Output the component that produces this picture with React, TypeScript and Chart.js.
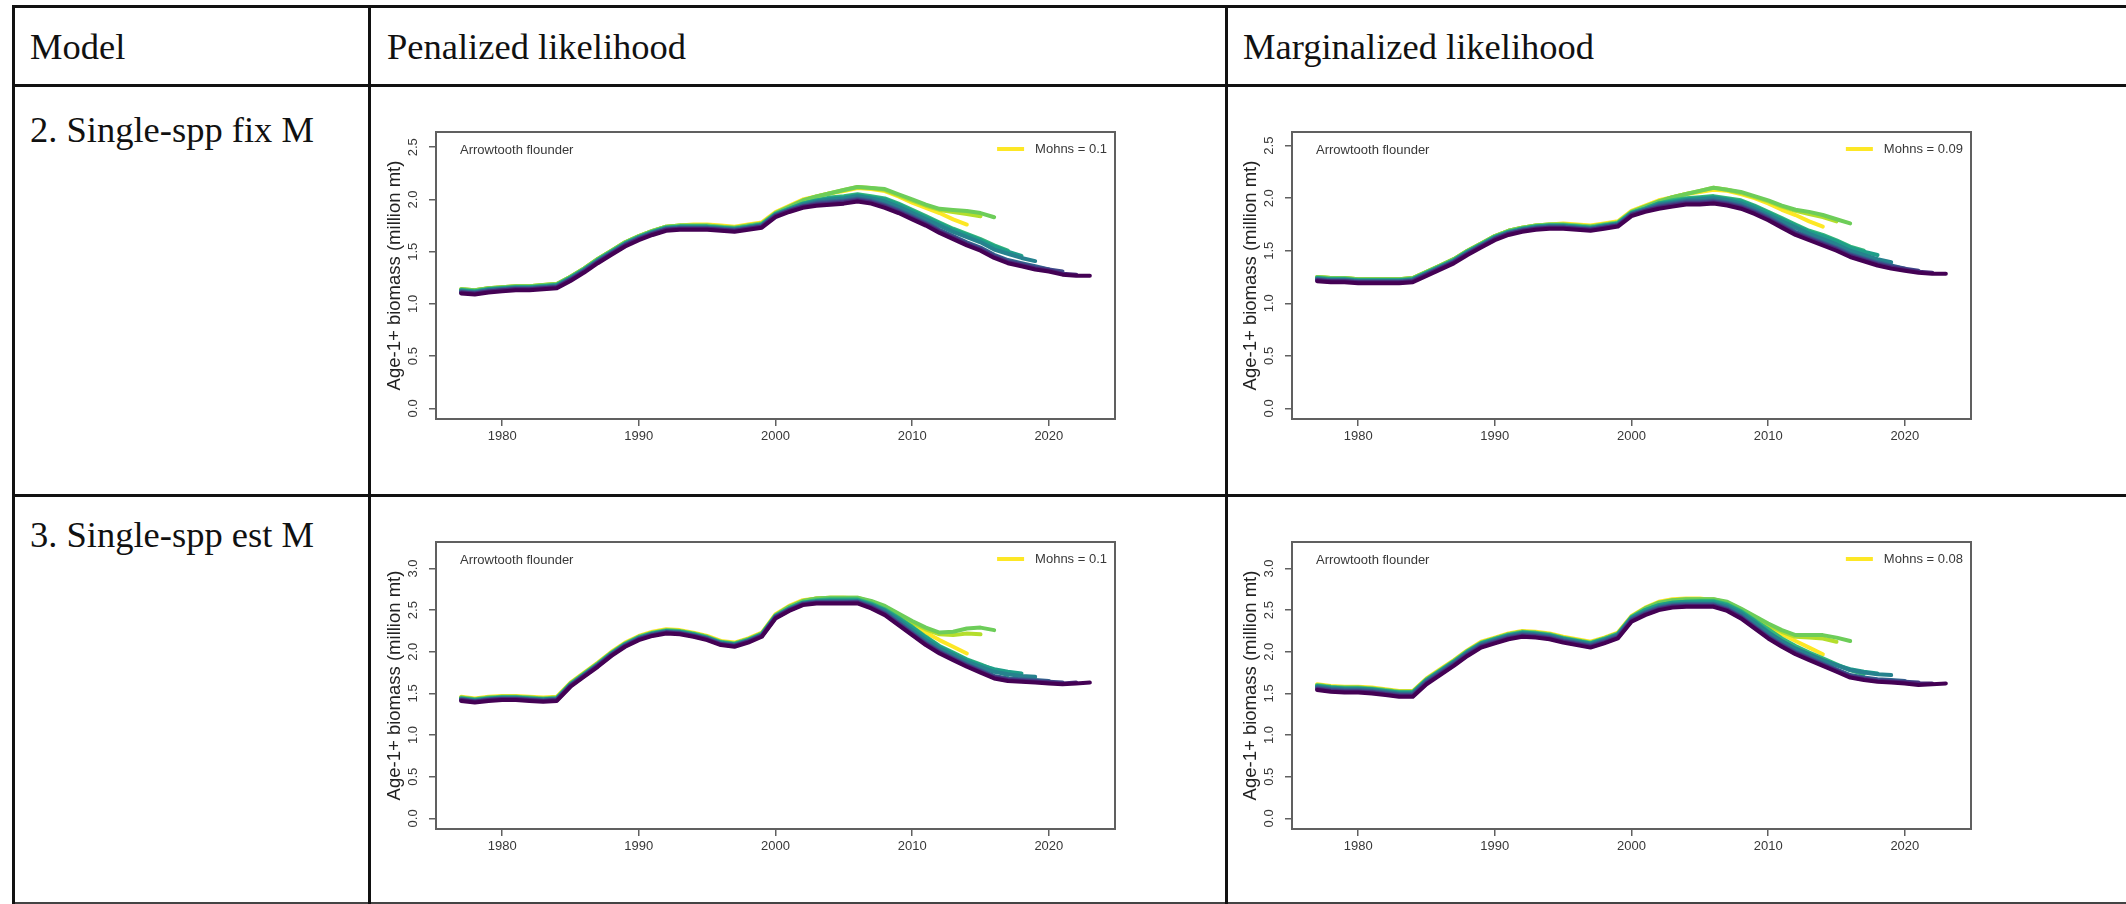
import React, { useEffect, useRef } from "react";
import { Chart, registerables } from "chart.js";

Chart.register(...registerables);
Chart.defaults.font.family = "'Liberation Sans', Arial, Helvetica, sans-serif";

// ---- data -------------------------------------------------------------
const years = [
  1977, 1978, 1979, 1980, 1981, 1982, 1983, 1984, 1985, 1986,
  1987, 1988, 1989, 1990, 1991, 1992, 1993, 1994, 1995, 1996,
  1997, 1998, 1999, 2000, 2001, 2002, 2003, 2004, 2005, 2006,
  2007, 2008, 2009, 2010, 2011, 2012, 2013, 2014, 2015, 2016,
  2017, 2018, 2019, 2020, 2021, 2022, 2023,
];

// terminal year of each retrospective peel (peel 0 = full assessment)
const peelEndYears = [2023, 2022, 2021, 2020, 2019, 2018, 2017, 2016, 2015, 2014];
// viridis(10)
const peelColors = [
  "#440154", "#482878", "#3E4A89", "#31688E", "#26828E",
  "#1F9E89", "#35B779", "#6DCD59", "#B4DE2C", "#FDE725",
];

const xTicks = [1980, 1990, 2000, 2010, 2020];
const yTicksFixM = [0, 0.5, 1.0, 1.5, 2.0, 2.5];
const yTicksEstM = [0, 0.5, 1.0, 1.5, 2.0, 2.5, 3.0];

const columnHeaders = ["Model", "Penalized likelihood", "Marginalized likelihood"];
const modelNames = ["2. Single-spp fix M", "3. Single-spp est M"];
const stockName = "Arrowtooth flounder";
const yAxisTitle = "Age-1+ biomass (million mt)";

const mohnsPenalizedFixM = 0.1;
const mohnsMarginalFixM = 0.09;
const mohnsPenalizedEstM = 0.1;
const mohnsMarginalEstM = 0.08;

// Age-1+ biomass (million t), one row per peel, starting 1977
const penalizedFixM: number[][] = [
  [1.10, 1.09, 1.11, 1.12, 1.13, 1.13, 1.14, 1.15, 1.22, 1.30, 1.39, 1.47, 1.55, 1.61, 1.66, 1.70, 1.71, 1.71, 1.71, 1.70, 1.69, 1.71, 1.73, 1.83, 1.88, 1.92, 1.94, 1.95, 1.96, 1.98, 1.96, 1.92, 1.87, 1.81, 1.75, 1.68, 1.62, 1.56, 1.51, 1.44, 1.39, 1.36, 1.33, 1.31, 1.28, 1.27, 1.27],
  [1.11, 1.10, 1.12, 1.13, 1.14, 1.14, 1.15, 1.16, 1.23, 1.31, 1.40, 1.48, 1.56, 1.62, 1.67, 1.71, 1.72, 1.72, 1.72, 1.71, 1.70, 1.72, 1.74, 1.84, 1.89, 1.93, 1.95, 1.96, 1.97, 1.99, 1.97, 1.93, 1.88, 1.82, 1.76, 1.69, 1.63, 1.57, 1.52, 1.45, 1.40, 1.37, 1.34, 1.32, 1.29, 1.28],
  [1.11, 1.10, 1.12, 1.13, 1.14, 1.14, 1.15, 1.16, 1.23, 1.31, 1.40, 1.48, 1.56, 1.62, 1.67, 1.71, 1.72, 1.72, 1.72, 1.71, 1.70, 1.72, 1.74, 1.84, 1.89, 1.93, 1.96, 1.97, 1.98, 2.00, 1.98, 1.94, 1.89, 1.83, 1.77, 1.70, 1.64, 1.58, 1.53, 1.46, 1.41, 1.38, 1.35, 1.33, 1.31],
  [1.12, 1.11, 1.13, 1.14, 1.15, 1.15, 1.16, 1.17, 1.24, 1.32, 1.41, 1.49, 1.57, 1.63, 1.68, 1.72, 1.73, 1.73, 1.73, 1.72, 1.71, 1.73, 1.75, 1.85, 1.90, 1.94, 1.97, 1.98, 1.99, 2.01, 1.99, 1.95, 1.90, 1.84, 1.78, 1.71, 1.65, 1.59, 1.54, 1.47, 1.42, 1.39, 1.36, 1.33],
  [1.12, 1.11, 1.13, 1.14, 1.15, 1.15, 1.16, 1.17, 1.24, 1.32, 1.41, 1.49, 1.57, 1.63, 1.68, 1.72, 1.73, 1.73, 1.73, 1.72, 1.71, 1.73, 1.75, 1.85, 1.90, 1.95, 1.98, 2.00, 2.01, 2.03, 2.01, 1.98, 1.93, 1.87, 1.81, 1.75, 1.69, 1.64, 1.59, 1.52, 1.48, 1.44, 1.41],
  [1.13, 1.12, 1.14, 1.15, 1.16, 1.16, 1.17, 1.18, 1.25, 1.33, 1.42, 1.50, 1.58, 1.64, 1.69, 1.73, 1.74, 1.74, 1.74, 1.73, 1.72, 1.74, 1.76, 1.86, 1.91, 1.96, 1.99, 2.01, 2.02, 2.04, 2.02, 2.00, 1.95, 1.89, 1.83, 1.77, 1.71, 1.66, 1.61, 1.55, 1.50, 1.46],
  [1.13, 1.12, 1.14, 1.15, 1.16, 1.16, 1.17, 1.18, 1.25, 1.33, 1.42, 1.50, 1.58, 1.64, 1.69, 1.73, 1.74, 1.74, 1.74, 1.73, 1.72, 1.74, 1.76, 1.86, 1.91, 1.96, 1.99, 2.02, 2.03, 2.05, 2.03, 2.01, 1.96, 1.90, 1.84, 1.78, 1.72, 1.67, 1.62, 1.56, 1.51],
  [1.14, 1.13, 1.15, 1.16, 1.17, 1.17, 1.18, 1.19, 1.26, 1.34, 1.43, 1.51, 1.59, 1.65, 1.70, 1.74, 1.75, 1.75, 1.75, 1.74, 1.73, 1.75, 1.77, 1.87, 1.93, 1.99, 2.03, 2.06, 2.09, 2.12, 2.11, 2.10, 2.05, 2.00, 1.95, 1.91, 1.90, 1.89, 1.87, 1.83],
  [1.14, 1.13, 1.15, 1.16, 1.17, 1.17, 1.18, 1.19, 1.26, 1.34, 1.43, 1.51, 1.59, 1.65, 1.70, 1.74, 1.75, 1.75, 1.75, 1.74, 1.73, 1.75, 1.77, 1.87, 1.93, 1.99, 2.03, 2.06, 2.09, 2.12, 2.11, 2.09, 2.04, 1.99, 1.94, 1.90, 1.88, 1.86, 1.84],
  [1.14, 1.13, 1.15, 1.16, 1.17, 1.17, 1.18, 1.19, 1.26, 1.34, 1.43, 1.51, 1.59, 1.65, 1.70, 1.74, 1.75, 1.76, 1.76, 1.75, 1.74, 1.76, 1.78, 1.88, 1.94, 2.00, 2.03, 2.06, 2.08, 2.11, 2.10, 2.08, 2.03, 1.97, 1.92, 1.87, 1.81, 1.76],
];

const marginalFixM: number[][] = [
  [1.21, 1.20, 1.20, 1.19, 1.19, 1.19, 1.19, 1.20, 1.26, 1.32, 1.38, 1.46, 1.53, 1.60, 1.65, 1.68, 1.70, 1.71, 1.71, 1.70, 1.69, 1.71, 1.73, 1.83, 1.87, 1.90, 1.92, 1.94, 1.94, 1.95, 1.93, 1.90, 1.85, 1.79, 1.72, 1.65, 1.60, 1.55, 1.50, 1.44, 1.40, 1.36, 1.33, 1.31, 1.29, 1.28, 1.28],
  [1.22, 1.21, 1.21, 1.20, 1.20, 1.20, 1.20, 1.21, 1.27, 1.33, 1.39, 1.47, 1.54, 1.61, 1.66, 1.69, 1.71, 1.72, 1.72, 1.71, 1.70, 1.72, 1.74, 1.84, 1.88, 1.91, 1.93, 1.95, 1.95, 1.96, 1.94, 1.91, 1.86, 1.80, 1.73, 1.66, 1.61, 1.56, 1.51, 1.45, 1.41, 1.37, 1.34, 1.32, 1.30, 1.29],
  [1.22, 1.21, 1.21, 1.20, 1.20, 1.20, 1.20, 1.21, 1.27, 1.33, 1.39, 1.47, 1.54, 1.61, 1.66, 1.69, 1.71, 1.72, 1.72, 1.71, 1.70, 1.72, 1.74, 1.84, 1.88, 1.92, 1.94, 1.96, 1.96, 1.97, 1.95, 1.92, 1.87, 1.81, 1.74, 1.67, 1.62, 1.57, 1.52, 1.46, 1.42, 1.38, 1.35, 1.33, 1.31],
  [1.23, 1.22, 1.22, 1.21, 1.21, 1.21, 1.21, 1.22, 1.28, 1.34, 1.40, 1.48, 1.55, 1.62, 1.67, 1.70, 1.72, 1.73, 1.73, 1.72, 1.71, 1.73, 1.75, 1.85, 1.89, 1.93, 1.95, 1.97, 1.97, 1.98, 1.96, 1.93, 1.88, 1.82, 1.75, 1.68, 1.63, 1.58, 1.53, 1.47, 1.43, 1.39, 1.36, 1.33],
  [1.23, 1.22, 1.22, 1.21, 1.21, 1.21, 1.21, 1.22, 1.28, 1.34, 1.40, 1.48, 1.55, 1.62, 1.67, 1.70, 1.72, 1.73, 1.73, 1.72, 1.71, 1.73, 1.75, 1.85, 1.89, 1.94, 1.96, 1.98, 1.99, 2.00, 1.98, 1.95, 1.90, 1.84, 1.78, 1.72, 1.66, 1.61, 1.56, 1.50, 1.46, 1.42, 1.39],
  [1.24, 1.23, 1.23, 1.22, 1.22, 1.22, 1.22, 1.23, 1.29, 1.35, 1.41, 1.49, 1.56, 1.63, 1.68, 1.71, 1.73, 1.74, 1.74, 1.73, 1.72, 1.74, 1.76, 1.86, 1.90, 1.95, 1.97, 1.99, 2.00, 2.01, 1.99, 1.97, 1.92, 1.86, 1.80, 1.74, 1.68, 1.64, 1.59, 1.53, 1.49, 1.46],
  [1.24, 1.23, 1.23, 1.22, 1.22, 1.22, 1.22, 1.23, 1.29, 1.35, 1.41, 1.49, 1.56, 1.63, 1.68, 1.71, 1.73, 1.74, 1.74, 1.73, 1.72, 1.74, 1.76, 1.86, 1.90, 1.95, 1.98, 2.00, 2.01, 2.02, 2.00, 1.98, 1.93, 1.87, 1.81, 1.75, 1.69, 1.65, 1.60, 1.54, 1.50],
  [1.25, 1.24, 1.24, 1.23, 1.23, 1.23, 1.23, 1.24, 1.30, 1.36, 1.42, 1.50, 1.57, 1.64, 1.69, 1.72, 1.74, 1.75, 1.75, 1.74, 1.73, 1.75, 1.77, 1.87, 1.92, 1.97, 2.01, 2.04, 2.07, 2.10, 2.08, 2.06, 2.02, 1.98, 1.93, 1.89, 1.87, 1.84, 1.80, 1.76],
  [1.25, 1.24, 1.24, 1.23, 1.23, 1.23, 1.23, 1.24, 1.30, 1.36, 1.42, 1.50, 1.57, 1.64, 1.69, 1.72, 1.74, 1.75, 1.75, 1.74, 1.73, 1.75, 1.77, 1.87, 1.92, 1.97, 2.01, 2.04, 2.07, 2.10, 2.08, 2.05, 2.01, 1.97, 1.92, 1.88, 1.85, 1.82, 1.78],
  [1.25, 1.24, 1.24, 1.23, 1.23, 1.23, 1.23, 1.24, 1.30, 1.36, 1.42, 1.50, 1.57, 1.64, 1.69, 1.72, 1.74, 1.75, 1.76, 1.75, 1.74, 1.76, 1.78, 1.88, 1.93, 1.98, 2.01, 2.04, 2.06, 2.08, 2.07, 2.04, 2.00, 1.95, 1.89, 1.84, 1.78, 1.73],
];

const penalizedEstM: number[][] = [
  [1.41, 1.39, 1.41, 1.42, 1.42, 1.41, 1.40, 1.41, 1.58, 1.70, 1.82, 1.95, 2.06, 2.14, 2.19, 2.22, 2.21, 2.18, 2.14, 2.08, 2.06, 2.11, 2.18, 2.40, 2.49, 2.56, 2.58, 2.58, 2.58, 2.58, 2.52, 2.44, 2.32, 2.20, 2.08, 1.98, 1.90, 1.82, 1.75, 1.68, 1.65, 1.64, 1.63, 1.62, 1.61, 1.62, 1.63],
  [1.42, 1.40, 1.42, 1.43, 1.43, 1.42, 1.41, 1.42, 1.59, 1.71, 1.83, 1.96, 2.07, 2.15, 2.20, 2.23, 2.22, 2.19, 2.15, 2.09, 2.07, 2.12, 2.19, 2.41, 2.50, 2.57, 2.59, 2.59, 2.59, 2.59, 2.53, 2.45, 2.33, 2.21, 2.09, 1.99, 1.91, 1.83, 1.76, 1.69, 1.66, 1.65, 1.64, 1.63, 1.62, 1.63],
  [1.42, 1.40, 1.42, 1.43, 1.43, 1.42, 1.41, 1.42, 1.59, 1.71, 1.83, 1.96, 2.07, 2.15, 2.20, 2.23, 2.22, 2.19, 2.15, 2.09, 2.07, 2.12, 2.19, 2.41, 2.50, 2.57, 2.59, 2.59, 2.59, 2.60, 2.54, 2.46, 2.34, 2.22, 2.10, 2.00, 1.92, 1.84, 1.77, 1.70, 1.67, 1.66, 1.65, 1.64, 1.63],
  [1.43, 1.41, 1.43, 1.44, 1.44, 1.43, 1.42, 1.43, 1.60, 1.72, 1.84, 1.97, 2.08, 2.16, 2.21, 2.24, 2.23, 2.20, 2.16, 2.10, 2.08, 2.13, 2.20, 2.42, 2.51, 2.58, 2.60, 2.60, 2.60, 2.60, 2.55, 2.47, 2.35, 2.23, 2.11, 2.01, 1.93, 1.85, 1.78, 1.71, 1.68, 1.67, 1.66, 1.65],
  [1.43, 1.41, 1.43, 1.44, 1.44, 1.43, 1.42, 1.43, 1.60, 1.72, 1.84, 1.97, 2.08, 2.16, 2.21, 2.24, 2.23, 2.20, 2.16, 2.10, 2.08, 2.13, 2.20, 2.42, 2.51, 2.58, 2.60, 2.61, 2.61, 2.61, 2.56, 2.49, 2.38, 2.26, 2.14, 2.04, 1.96, 1.88, 1.82, 1.76, 1.73, 1.71, 1.70],
  [1.44, 1.42, 1.44, 1.45, 1.45, 1.44, 1.43, 1.44, 1.61, 1.73, 1.85, 1.98, 2.09, 2.17, 2.22, 2.25, 2.24, 2.21, 2.17, 2.11, 2.09, 2.14, 2.21, 2.43, 2.52, 2.59, 2.61, 2.62, 2.62, 2.62, 2.57, 2.50, 2.40, 2.29, 2.17, 2.06, 1.98, 1.90, 1.84, 1.79, 1.76, 1.74],
  [1.44, 1.42, 1.44, 1.45, 1.45, 1.44, 1.43, 1.44, 1.61, 1.73, 1.85, 1.98, 2.09, 2.17, 2.22, 2.25, 2.24, 2.21, 2.17, 2.11, 2.09, 2.14, 2.21, 2.43, 2.52, 2.59, 2.62, 2.63, 2.63, 2.63, 2.58, 2.51, 2.41, 2.30, 2.18, 2.07, 1.99, 1.91, 1.85, 1.78, 1.72],
  [1.45, 1.43, 1.45, 1.46, 1.46, 1.45, 1.44, 1.45, 1.62, 1.74, 1.86, 1.99, 2.10, 2.18, 2.23, 2.26, 2.25, 2.22, 2.18, 2.12, 2.10, 2.15, 2.22, 2.44, 2.54, 2.61, 2.64, 2.65, 2.65, 2.65, 2.61, 2.55, 2.46, 2.37, 2.29, 2.23, 2.24, 2.28, 2.29, 2.26],
  [1.45, 1.43, 1.45, 1.46, 1.46, 1.45, 1.44, 1.45, 1.62, 1.74, 1.86, 1.99, 2.10, 2.18, 2.23, 2.26, 2.25, 2.22, 2.18, 2.12, 2.10, 2.15, 2.22, 2.44, 2.54, 2.61, 2.64, 2.65, 2.65, 2.65, 2.60, 2.54, 2.45, 2.35, 2.27, 2.21, 2.20, 2.22, 2.21],
  [1.46, 1.44, 1.46, 1.47, 1.47, 1.46, 1.45, 1.46, 1.63, 1.75, 1.87, 2.00, 2.11, 2.19, 2.24, 2.27, 2.26, 2.23, 2.19, 2.13, 2.11, 2.16, 2.23, 2.45, 2.55, 2.62, 2.64, 2.65, 2.65, 2.64, 2.59, 2.52, 2.43, 2.33, 2.23, 2.14, 2.06, 1.98],
];

const marginalEstM: number[][] = [
  [1.54, 1.52, 1.51, 1.51, 1.50, 1.48, 1.46, 1.46, 1.61, 1.72, 1.83, 1.95, 2.05, 2.10, 2.15, 2.18, 2.17, 2.15, 2.11, 2.08, 2.05, 2.10, 2.16, 2.36, 2.44, 2.50, 2.53, 2.54, 2.54, 2.54, 2.49, 2.40, 2.28, 2.16, 2.06, 1.97, 1.90, 1.83, 1.76, 1.69, 1.66, 1.64, 1.63, 1.62, 1.60, 1.61, 1.62],
  [1.55, 1.53, 1.52, 1.52, 1.51, 1.49, 1.47, 1.47, 1.62, 1.73, 1.84, 1.96, 2.06, 2.11, 2.16, 2.19, 2.18, 2.16, 2.12, 2.09, 2.06, 2.11, 2.17, 2.37, 2.45, 2.51, 2.54, 2.55, 2.55, 2.55, 2.50, 2.41, 2.29, 2.17, 2.07, 1.98, 1.91, 1.84, 1.77, 1.70, 1.67, 1.65, 1.64, 1.63, 1.62, 1.62],
  [1.56, 1.54, 1.53, 1.53, 1.52, 1.50, 1.48, 1.48, 1.63, 1.74, 1.85, 1.97, 2.07, 2.12, 2.17, 2.20, 2.19, 2.17, 2.13, 2.10, 2.07, 2.12, 2.18, 2.38, 2.46, 2.52, 2.55, 2.56, 2.56, 2.56, 2.51, 2.42, 2.30, 2.18, 2.08, 1.99, 1.92, 1.85, 1.78, 1.71, 1.68, 1.66, 1.65, 1.64, 1.63],
  [1.57, 1.55, 1.54, 1.54, 1.53, 1.51, 1.49, 1.49, 1.64, 1.75, 1.86, 1.98, 2.08, 2.13, 2.18, 2.21, 2.20, 2.18, 2.14, 2.11, 2.08, 2.13, 2.19, 2.39, 2.47, 2.53, 2.56, 2.57, 2.57, 2.57, 2.52, 2.43, 2.31, 2.19, 2.09, 2.00, 1.93, 1.86, 1.79, 1.72, 1.69, 1.67, 1.66, 1.65],
  [1.58, 1.56, 1.55, 1.55, 1.54, 1.52, 1.50, 1.50, 1.65, 1.76, 1.87, 1.99, 2.09, 2.14, 2.19, 2.22, 2.21, 2.19, 2.15, 2.12, 2.09, 2.14, 2.20, 2.40, 2.48, 2.54, 2.57, 2.58, 2.58, 2.58, 2.54, 2.46, 2.35, 2.23, 2.13, 2.04, 1.97, 1.90, 1.84, 1.78, 1.75, 1.73, 1.72],
  [1.59, 1.57, 1.56, 1.56, 1.55, 1.53, 1.51, 1.51, 1.66, 1.77, 1.88, 2.00, 2.10, 2.15, 2.20, 2.23, 2.22, 2.20, 2.16, 2.13, 2.10, 2.15, 2.21, 2.41, 2.50, 2.56, 2.59, 2.60, 2.60, 2.60, 2.56, 2.48, 2.37, 2.24, 2.12, 2.03, 1.95, 1.89, 1.84, 1.79, 1.76, 1.74],
  [1.59, 1.57, 1.56, 1.56, 1.55, 1.53, 1.51, 1.51, 1.66, 1.77, 1.88, 2.00, 2.10, 2.15, 2.20, 2.23, 2.22, 2.20, 2.16, 2.13, 2.10, 2.15, 2.21, 2.41, 2.50, 2.56, 2.59, 2.60, 2.61, 2.61, 2.57, 2.49, 2.38, 2.27, 2.16, 2.07, 1.99, 1.92, 1.85, 1.78, 1.73],
  [1.60, 1.58, 1.57, 1.57, 1.56, 1.54, 1.52, 1.52, 1.67, 1.78, 1.89, 2.01, 2.11, 2.16, 2.21, 2.24, 2.23, 2.21, 2.17, 2.14, 2.11, 2.16, 2.22, 2.42, 2.52, 2.59, 2.62, 2.63, 2.63, 2.63, 2.60, 2.52, 2.43, 2.34, 2.26, 2.20, 2.20, 2.20, 2.17, 2.13],
  [1.60, 1.58, 1.57, 1.57, 1.56, 1.54, 1.52, 1.52, 1.67, 1.78, 1.89, 2.01, 2.11, 2.16, 2.21, 2.24, 2.23, 2.21, 2.17, 2.14, 2.11, 2.16, 2.22, 2.42, 2.52, 2.59, 2.62, 2.63, 2.63, 2.63, 2.59, 2.51, 2.42, 2.32, 2.24, 2.18, 2.17, 2.16, 2.12],
  [1.61, 1.59, 1.58, 1.58, 1.57, 1.55, 1.53, 1.53, 1.68, 1.79, 1.90, 2.02, 2.12, 2.17, 2.22, 2.25, 2.24, 2.22, 2.18, 2.15, 2.12, 2.17, 2.23, 2.43, 2.53, 2.60, 2.63, 2.64, 2.64, 2.62, 2.58, 2.49, 2.40, 2.30, 2.21, 2.13, 2.05, 1.97],
];

// ---- layout (page pixels) --------------------------------------------
const PAGE_W = 2126;
const PAGE_H = 904;
const CANVAS_W = 840;
const CANVAS_H = 380;

const panels = [
  { peels: penalizedFixM, mohns: mohnsPenalizedFixM, yTicks: yTicksFixM, yMin: -0.102, yMax: 2.646, left: 372, top: 100 },
  { peels: marginalFixM, mohns: mohnsMarginalFixM, yTicks: yTicksFixM, yMin: -0.101, yMax: 2.63, left: 1228, top: 100 },
  { peels: penalizedEstM, mohns: mohnsPenalizedEstM, yTicks: yTicksEstM, yMin: -0.128, yMax: 3.318, left: 372, top: 510 },
  { peels: marginalEstM, mohns: mohnsMarginalEstM, yTicks: yTicksEstM, yMin: -0.128, yMax: 3.318, left: 1228, top: 510 },
];

const AXIS_GRAY = "#606060";
const TEXT_GRAY = "#383838";

type PanelProps = (typeof panels)[number];

function RetroPanel({ peels, mohns, yTicks, yMin, yMax, left, top }: PanelProps) {
  const ref = useRef<HTMLCanvasElement | null>(null);

  useEffect(() => {
    if (!ref.current) return;

    // box around the plot region, stock label and the Mohn's rho key
    const decorations = {
      id: "plotDecorations",
      afterDraw(chart: any) {
        const { ctx, chartArea: a } = chart;
        ctx.save();
        ctx.strokeStyle = AXIS_GRAY;
        ctx.lineWidth = 2;
        ctx.strokeRect(a.left, a.top, a.right - a.left, a.bottom - a.top);

        ctx.font = "13px 'Liberation Sans', Arial, sans-serif";
        ctx.fillStyle = TEXT_GRAY;
        ctx.textBaseline = "middle";
        ctx.textAlign = "left";
        ctx.fillText(stockName, a.left + 24, a.top + 18);

        const key = `Mohns = ${mohns}`;
        const textRight = a.right - 8;
        const textW = ctx.measureText(key).width;
        const textLeft = textRight - textW;
        const keyY = a.top + 17;
        ctx.fillText(key, textLeft, keyY);
        const lastPeel = chart.data.datasets[chart.data.datasets.length - 1];
        ctx.strokeStyle = lastPeel.borderColor;
        ctx.lineWidth = 4;
        ctx.beginPath();
        ctx.moveTo(textLeft - 38, keyY);
        ctx.lineTo(textLeft - 11, keyY);
        ctx.stroke();
        ctx.restore();
      },
    };

    const tickGrid = {
      display: true,
      drawOnChartArea: false,
      drawTicks: true,
      tickLength: 7,
      color: AXIS_GRAY,
      lineWidth: 1.5,
    };

    const chart = new Chart(ref.current, {
      type: "line",
      data: {
        labels: years,
        datasets: peels.map((vals, i) => ({
          label: String(peelEndYears[i]),
          data: vals,
          borderColor: peelColors[i],
          backgroundColor: peelColors[i],
          borderWidth: 4,
          pointRadius: 0,
          fill: false,
          tension: 0,
          borderCapStyle: "round" as const,
          borderJoinStyle: "round" as const,
        })),
      },
      options: {
        responsive: false,
        animation: false,
        devicePixelRatio: 1,
        layout: { padding: { left: 0, top: 32, right: 97, bottom: 21 } },
        scales: {
          x: {
            type: "linear",
            min: 1975.16,
            max: 2024.84,
            afterBuildTicks: (s: any) => {
              s.ticks = xTicks.map((v) => ({ value: v }));
            },
            afterFit: (s: any) => {
              s.height = 40;
            },
            grid: tickGrid,
            border: { display: false },
            ticks: {
              autoSkip: false,
              minRotation: 0,
              maxRotation: 0,
              padding: 3,
              color: TEXT_GRAY,
              font: { size: 13 },
              callback: (v: any) => String(v),
            },
          },
          y: {
            type: "linear",
            min: yMin,
            max: yMax,
            afterBuildTicks: (s: any) => {
              s.ticks = yTicks.map((v) => ({ value: v }));
            },
            afterFit: (s: any) => {
              s.width = 64;
            },
            grid: tickGrid,
            border: { display: false },
            ticks: {
              autoSkip: false,
              minRotation: 90,
              maxRotation: 90,
              crossAlign: "center",
              padding: 7,
              color: TEXT_GRAY,
              font: { size: 13 },
              callback: (v: any) => Number(v).toFixed(1),
            },
            title: {
              display: true,
              text: yAxisTitle,
              color: "#222222",
              font: { size: 18.5 },
              padding: { top: 12, bottom: 0 },
            },
          },
        },
        plugins: {
          legend: { display: false },
          tooltip: { enabled: false },
        },
      },
      plugins: [decorations],
    } as any);

    return () => chart.destroy();
  }, [peels, mohns, yTicks, yMin, yMax]);

  return (
    <canvas
      ref={ref}
      width={CANVAS_W}
      height={CANVAS_H}
      style={{ position: "absolute", left, top, width: CANVAS_W, height: CANVAS_H }}
    />
  );
}

const serif = "'Liberation Serif', 'Times New Roman', Times, serif";

function Cell({ text, left, baseline }: { text: string; left: number; baseline: number }) {
  // line-height equals the font size, so the baseline sits ~30.6px below the box top
  return (
    <div
      style={{
        position: "absolute",
        left,
        top: baseline - 30.6,
        fontFamily: serif,
        fontSize: 36.5,
        lineHeight: "36.5px",
        color: "#111",
        whiteSpace: "nowrap",
      }}
    >
      {text}
    </div>
  );
}

function Rule({ x, y, w, h, color = "#111" }: { x: number; y: number; w: number; h: number; color?: string }) {
  return <div style={{ position: "absolute", left: x, top: y, width: w, height: h, background: color }} />;
}

export default function App() {
  return (
    <div
      style={{
        position: "absolute",
        left: 0,
        top: 0,
        width: PAGE_W,
        height: PAGE_H,
        background: "#ffffff",
        overflow: "hidden",
      }}
    >
      {panels.map((p, i) => (
        <RetroPanel key={i} {...p} />
      ))}

      {/* table rules */}
      <Rule x={12} y={5} w={PAGE_W - 12} h={3} />
      <Rule x={12} y={84} w={PAGE_W - 12} h={3} />
      <Rule x={12} y={494} w={PAGE_W - 12} h={3} />
      <Rule x={12} y={902} w={PAGE_W - 12} h={2} color="#444" />
      <Rule x={12} y={5} w={3} h={PAGE_H - 5} />
      <Rule x={368} y={5} w={3} h={PAGE_H - 5} />
      <Rule x={1225} y={5} w={3} h={PAGE_H - 5} />

      <Cell text={columnHeaders[0]} left={30} baseline={60} />
      <Cell text={columnHeaders[1]} left={387} baseline={60} />
      <Cell text={columnHeaders[2]} left={1243} baseline={60} />
      <Cell text={modelNames[0]} left={30} baseline={143} />
      <Cell text={modelNames[1]} left={30} baseline={548} />
    </div>
  );
}
